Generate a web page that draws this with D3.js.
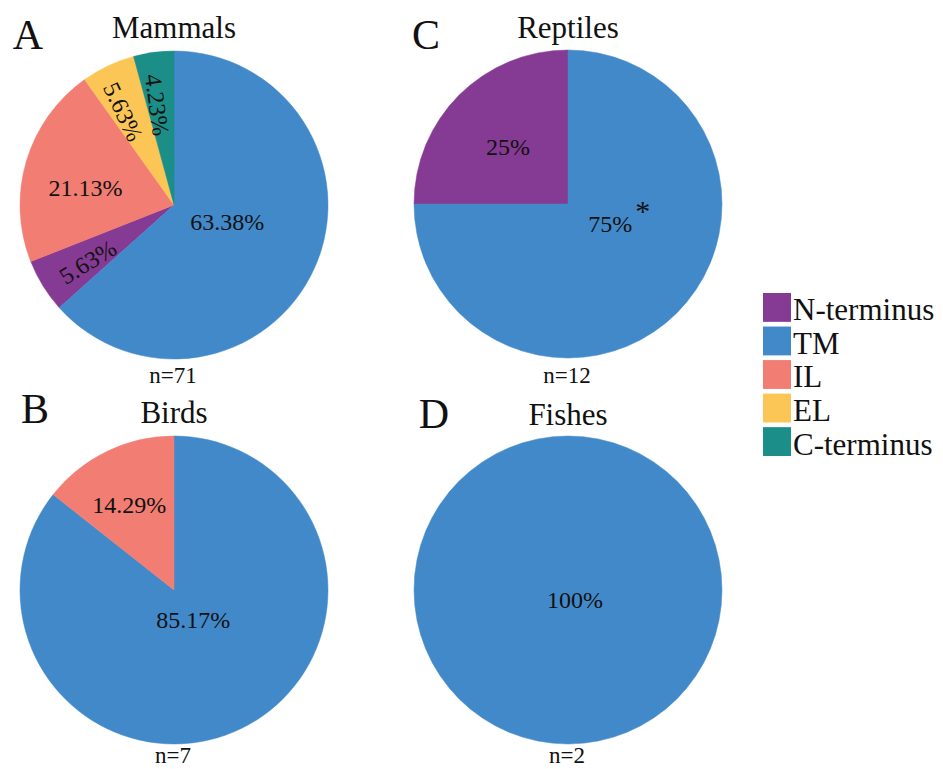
<!DOCTYPE html>
<html>
<head>
<meta charset="utf-8">
<script src="https://cdn.jsdelivr.net/npm/d3@7"></script>
<style>
  html, body { margin: 0; padding: 0; background: #fff; }
  svg { display: block; }
</style>
</head>
<body>
<svg id="chart" width="943" height="769"></svg>
<script>
// Protein regions (legend order)
const categories = ["N-terminus", "TM", "IL", "EL", "C-terminus"];
const categoryColors = ["#853a93", "#4289c9", "#f27d73", "#fcc656", "#1a8e87"];
// Slices are drawn clockwise from 12 o'clock in this order
const sliceOrder = ["TM", "N-terminus", "IL", "EL", "C-terminus"];

// Percentages per region, aligned with `categories`
const mammals  = [5.63, 63.38, 21.13, 5.63, 4.23];
const birds    = [0, 85.17, 14.29, 0, 0];
const reptiles = [25, 75, 0, 0, 0];
const fishes   = [0, 100, 0, 0, 0];

const panelLetters = ["A", "B", "C", "D"];
const panelTitles  = ["Mammals", "Birds", "Reptiles", "Fishes"];
const sampleSizes  = [71, 7, 12, 2];
const panelValues  = [mammals, birds, reptiles, fishes];

const FONT = "'Liberation Serif', 'Times New Roman', Times, serif";

// Layout of each panel: pie centre, letter position, and label placement
// (label offsets are fractions of the radius; rotate = radial text)
const R = 154;
const layout = [
  { cx: 174, cy: 205, letterX: 28, letterY: 49, titleY: 38, nY: 383,
    labels: {
      "TM":         { dx: 0.345, dy: 0.11 },
      "N-terminus": { dx: -0.56, dy: 0.37, rotate: true },
      "IL":         { dx: -0.575, dy: -0.11 },
      "EL":         { dx: -0.33, dy: -0.605, rotate: true },
      "C-terminus": { dx: -0.11, dy: -0.65, rotate: true }
    } },
  { cx: 174, cy: 590, letterX: 35, letterY: 423, titleY: 423, nY: 763,
    labels: {
      "TM": { dx: 0.125, dy: 0.195 },
      "IL": { dx: -0.29, dy: -0.55 }
    } },
  { cx: 568, cy: 204, letterX: 426, letterY: 49, titleY: 38, nY: 383,
    labels: {
      "TM":         { dx: 0.275, dy: 0.13, note: "*" },
      "N-terminus": { dx: -0.39, dy: -0.37 }
    } },
  { cx: 568, cy: 590, letterX: 434, letterY: 428, titleY: 425, nY: 763,
    labels: {
      "TM": { dx: 0.045, dy: 0.065 }
    } }
];

const svg = d3.select("#chart")
  .attr("font-family", FONT)
  .style("font-family", FONT);
const color = d3.scaleOrdinal().domain(categories).range(categoryColors);

const pie = d3.pie()
  .value(d => d.value)
  .sort((a, b) => sliceOrder.indexOf(a.key) - sliceOrder.indexOf(b.key));
const arc = d3.arc().innerRadius(0).outerRadius(R);

function label(sel) {
  return sel.style("font-family", FONT).attr("fill", "#111");
}

panelValues.forEach((vals, i) => {
  const L = layout[i];
  const rows = categories.map((k, j) => ({ key: k, value: vals[j] }))
    .filter(d => d.value > 0);

  const g = svg.append("g").attr("transform", `translate(${L.cx},${L.cy})`);

  const arcs = pie(rows);
  g.selectAll("path.slice")
    .data(arcs)
    .join("path")
    .attr("class", "slice")
    .attr("d", arc)
    .attr("fill", d => color(d.data.key))
    .attr("stroke", d => color(d.data.key))
    .attr("stroke-width", 0.5);

  // Percentage labels
  arcs.forEach(a => {
    const spec = L.labels[a.data.key];
    if (!spec) return;
    const x = spec.dx * R, y = spec.dy * R;
    const mid = (a.startAngle + a.endAngle) / 2 * 180 / Math.PI;
    const rot = spec.rotate ? mid - 270 : 0;
    const t = g.append("text")
      .call(label)
      .attr("transform", `translate(${x},${y}) rotate(${rot})`)
      .attr("text-anchor", "middle")
      .attr("dy", "0.34em")
      .style("font-size", "24px")
      .text(a.data.value + "%");
    if (spec.note) {
      // superscript marker, kept out of the centring of the value
      const bb = t.node().getBBox();
      g.append("text")
        .call(label)
        .attr("x", x + bb.width / 2 + 3)
        .attr("y", y - 3)
        .style("font-size", "30px")
        .text(spec.note);
    }
  });

  // Panel letter, title, sample size
  svg.append("text").call(label)
    .attr("x", L.letterX).attr("y", L.letterY)
    .attr("text-anchor", "middle")
    .style("font-size", "42px")
    .text(panelLetters[i]);
  svg.append("text").call(label)
    .attr("x", L.cx).attr("y", L.titleY)
    .attr("text-anchor", "middle")
    .style("font-size", "31px")
    .text(panelTitles[i]);
  svg.append("text").call(label)
    .attr("x", L.cx - 1).attr("y", L.nY)
    .attr("text-anchor", "middle")
    .style("font-size", "23px")
    .text("n=" + sampleSizes[i]);
});

// Legend
const legendY = d3.scaleBand().domain(categories).range([293, 456]).paddingInner(0.14).paddingOuter(0);
const legend = svg.append("g");
const items = legend.selectAll("g").data(categories).join("g")
  .attr("transform", d => `translate(763,${legendY(d)})`);
items.append("rect")
  .attr("width", 28)
  .attr("height", legendY.bandwidth())
  .attr("fill", d => color(d));
items.append("text").call(label)
  .attr("x", 30)
  .attr("y", legendY.bandwidth() - 1.5)
  .style("font-size", "31px")
  .text(d => d);
</script>
</body>
</html>
